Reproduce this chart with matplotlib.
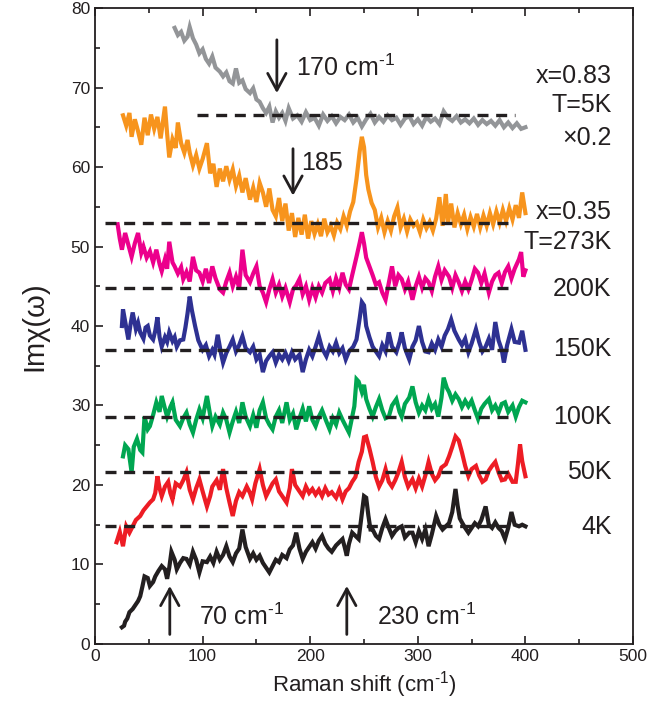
import matplotlib
matplotlib.use("Agg")
import matplotlib.pyplot as plt
from matplotlib.ticker import MultipleLocator

plt.rcParams['font.family'] = ['Liberation Sans', 'DejaVu Sans']
plt.rcParams['mathtext.fontset'] = 'custom'
plt.rcParams['mathtext.rm'] = 'Liberation Sans'
plt.rcParams['mathtext.it'] = 'Liberation Sans:italic'

# ---- spectra (Raman shift, Im chi) ----
gray_x = [74, 77, 80, 83, 86, 88, 91, 94, 97, 100, 103, 106, 109, 112, 116, 119, 122, 125, 128, 131,
          134, 137, 140, 144, 147, 150, 153, 156, 159, 162, 165, 168, 171, 174, 177, 180, 184, 188, 192, 196,
          200, 204, 208, 212, 216, 220, 224, 228, 232, 236, 240, 244, 248, 252, 256, 260, 264, 268, 272, 276,
          280, 284, 288, 292, 296, 300, 304, 308, 312, 316, 320, 324, 328, 332, 336, 340, 344, 348, 352, 356,
          360, 364, 368, 372, 376, 380, 384, 388, 392, 396, 400]
gray_y = [77.5, 76.6, 77.0, 75.9, 76.4, 77.6, 76.2, 75.4, 74.3, 74.8, 73.6, 73.0, 73.9, 72.5, 72.0, 71.4, 71.9, 70.8, 70.5, 72.4,
          70.6, 70.9, 69.8, 69.3, 69.9, 68.5, 68.2, 67.4, 66.8, 67.6, 65.6, 67.0, 66.2, 66.8, 65.8, 67.4, 66.1, 66.5, 65.7, 66.9,
          65.9, 66.2, 65.2, 66.6, 65.8, 66.4, 65.5, 66.3, 65.9, 66.6, 65.6, 66.2, 65.1, 66.0, 66.7, 65.6, 66.3, 65.7, 66.5, 65.9,
          66.2, 65.3, 66.1, 66.4, 65.4, 66.0, 65.2, 66.3, 65.7, 66.1, 65.4, 67.0, 66.2, 65.8, 66.4, 65.6, 66.0, 65.5, 66.1, 65.3,
          65.9, 65.4, 65.8, 65.2, 65.9, 65.0, 65.6, 64.9, 65.5, 64.8, 65.0]

orange_x = [26, 29, 32, 34, 37, 40, 43, 46, 49, 52, 55, 58, 61, 65, 67, 69, 72, 75, 77, 80,
            83, 86, 88, 91, 94, 97, 100, 104, 107, 110, 113, 116, 119, 122, 125, 128, 131, 134, 137, 140,
            144, 147, 150, 153, 156, 159, 162, 165, 168, 171, 174, 177, 180, 183, 186, 189, 192, 195, 198, 201,
            204, 207, 210, 213, 216, 219, 222, 225, 228, 231, 234, 237, 240, 243, 246, 248, 250, 252, 254, 257,
            260, 263, 266, 269, 272, 275, 278, 281, 284, 287, 290, 293, 296, 299, 302, 305, 308, 311, 314, 317,
            320, 323, 326, 328, 331, 334, 337, 340, 343, 346, 349, 352, 355, 358, 361, 364, 367, 370, 373, 376,
            379, 382, 385, 388, 391, 394, 397, 400]
orange_y = [66.5, 65.2, 66.8, 63.8, 66.0, 64.5, 62.8, 66.2, 64.0, 66.6, 64.8, 66.3, 63.6, 67.6, 64.2, 61.2, 63.5, 62.4, 65.6, 63.0,
            61.8, 63.4, 61.8, 60.2, 61.5, 59.8, 61.0, 63.0, 59.2, 60.4, 57.5, 59.8, 58.2, 60.1, 58.4, 59.7, 57.6, 58.9, 56.8, 58.6,
            55.9, 57.4, 55.6, 58.0, 56.8, 55.0, 57.3, 54.6, 53.8, 56.1, 53.2, 55.4, 52.0, 54.2, 51.2, 53.6, 51.5, 54.0, 51.0, 53.2,
            51.6, 52.8, 51.3, 53.5, 51.8, 52.6, 51.4, 53.0, 52.2, 53.8, 52.6, 54.4, 55.6, 58.5, 62.0, 63.8, 62.5, 59.0, 57.2, 55.5,
            54.6, 52.4, 53.6, 51.8, 53.2, 52.0, 53.8, 54.9, 52.4, 53.5, 51.9, 53.4, 52.6, 53.0, 51.8, 53.4, 52.3, 53.1, 52.0, 53.5,
            56.2, 52.6, 56.6, 53.0, 55.4, 52.4, 54.2, 52.8, 54.0, 52.2, 53.7, 52.5, 54.1, 52.4, 53.9, 52.6, 54.2, 52.8, 54.4, 53.0,
            54.6, 53.2, 54.8, 53.4, 55.2, 53.6, 56.8, 54.2]

pink_x = [21, 23, 25, 28, 31, 34, 37, 40, 43, 45, 48, 51, 54, 57, 60, 62, 65, 67, 69, 72,
          74, 77, 80, 82, 85, 88, 91, 94, 97, 100, 103, 106, 109, 112, 116, 119, 122, 125, 128, 131,
          134, 137, 140, 144, 147, 150, 153, 156, 159, 162, 165, 168, 171, 174, 177, 181, 184, 187, 190, 193,
          196, 199, 202, 205, 208, 211, 214, 218, 221, 224, 227, 230, 233, 236, 239, 243, 246, 248, 250, 252,
          255, 258, 261, 264, 267, 270, 273, 276, 279, 282, 285, 288, 291, 295, 298, 301, 304, 307, 310, 313,
          316, 319, 322, 325, 329, 332, 335, 338, 341, 344, 347, 350, 353, 356, 359, 362, 366, 369, 372, 375,
          378, 381, 384, 387, 390, 394, 396, 398, 400]
pink_y = [52.8, 51.0, 49.6, 51.7, 50.2, 48.7, 50.4, 51.7, 49.2, 50.0, 48.6, 49.4, 48.0, 49.6, 47.8, 46.9, 48.4, 47.2, 50.6, 48.0,
          47.5, 46.6, 47.4, 45.9, 46.8, 45.6, 48.7, 47.0, 46.7, 45.6, 47.2, 45.4, 47.5, 46.0, 44.6, 44.2, 45.6, 46.7, 45.0, 46.2,
          44.8, 49.6, 46.4, 45.5, 46.6, 47.5, 45.0, 44.2, 43.0, 44.6, 45.9, 44.2, 45.2, 43.7, 44.8, 43.0, 44.6, 45.1, 45.9, 44.0,
          45.0, 43.3, 44.8, 43.6, 45.0, 44.2, 45.4, 45.9, 44.4, 46.0, 44.8, 46.7, 45.2, 44.6, 46.4, 48.7, 50.5, 51.8, 50.4, 48.6,
          47.5, 46.4, 45.2, 45.5, 44.2, 43.3, 45.4, 47.5, 45.0, 46.4, 45.9, 44.6, 45.6, 43.3, 45.0, 46.2, 44.8, 46.0, 45.5, 44.4,
          46.2, 47.5, 45.8, 47.0, 46.2, 44.8, 46.4, 45.5, 44.4, 45.6, 44.6, 45.8, 47.2, 46.7, 45.4, 46.6, 44.2, 45.6, 46.4, 46.7,
          45.4, 46.8, 47.5, 46.0, 47.2, 48.4, 49.3, 46.2, 47.0]

blue_x = [25, 26, 28, 31, 33, 35, 38, 40, 42, 45, 47, 49, 51, 54, 56, 58, 60, 62, 65, 67,
          69, 72, 74, 76, 79, 82, 84, 86, 88, 90, 93, 96, 98, 100, 103, 106, 109, 111, 114, 117,
          119, 122, 125, 128, 131, 134, 137, 140, 144, 147, 150, 153, 156, 159, 162, 165, 168, 171, 174, 177,
          180, 183, 186, 190, 193, 196, 199, 202, 205, 208, 211, 215, 218, 221, 224, 227, 230, 233, 236, 240,
          243, 246, 248, 250, 252, 255, 258, 261, 264, 267, 270, 273, 276, 280, 283, 285, 288, 292, 295, 298,
          301, 304, 307, 310, 313, 316, 319, 322, 325, 328, 331, 334, 338, 341, 344, 347, 350, 354, 357, 360,
          363, 366, 369, 372, 375, 378, 380, 383, 387, 390, 394, 397, 400]
blue_y = [40.0, 42.1, 40.6, 38.3, 40.2, 41.7, 39.6, 40.4, 39.2, 38.4, 39.8, 40.0, 38.8, 38.3, 39.4, 41.1, 38.6, 37.4, 38.6, 38.0,
          39.2, 38.1, 38.6, 37.4, 38.2, 38.3, 39.8, 41.6, 43.7, 42.0, 40.0, 38.2, 37.6, 37.0, 37.6, 36.2, 37.0, 36.4, 38.9, 36.6,
          35.4, 36.6, 37.4, 38.3, 36.8, 37.6, 38.7, 37.2, 36.7, 37.4, 35.8, 36.4, 34.2, 35.6, 36.2, 36.7, 35.4, 36.4, 35.8, 36.6,
          35.6, 36.7, 35.8, 36.4, 34.2, 35.8, 37.0, 36.2, 37.4, 38.7, 37.2, 36.2, 37.4, 36.8, 37.9, 36.6, 37.2, 35.8, 36.8, 37.4,
          38.3, 41.0, 43.0, 42.6, 40.0, 38.6, 37.4, 36.8, 36.2, 37.6, 36.8, 39.2, 37.4, 36.7, 38.0, 39.2, 37.2, 35.8, 37.4, 38.2,
          40.0, 38.0, 36.8, 36.7, 37.8, 37.0, 38.3, 37.4, 38.8, 39.6, 40.8, 39.4, 38.3, 37.6, 38.4, 36.7, 37.8, 39.6, 38.0, 36.8,
          37.4, 38.4, 37.0, 40.5, 38.2, 37.0, 35.4, 37.6, 39.6, 38.0, 37.9, 39.4, 37.0]

green_x = [26, 28, 31, 34, 36, 39, 42, 44, 46, 49, 51, 54, 57, 60, 62, 65, 67, 70, 72, 75,
           79, 82, 85, 88, 91, 94, 97, 100, 104, 107, 109, 112, 116, 119, 122, 125, 128, 131, 134, 137,
           140, 144, 147, 150, 153, 156, 159, 162, 165, 168, 171, 174, 178, 181, 184, 187, 190, 193, 196, 199,
           202, 205, 208, 211, 215, 218, 221, 224, 227, 230, 233, 236, 239, 241, 243, 245, 248, 250, 252, 255,
           258, 261, 264, 267, 270, 273, 276, 280, 283, 285, 288, 292, 295, 298, 301, 304, 307, 310, 313, 316,
           319, 322, 324, 327, 329, 332, 335, 338, 341, 344, 347, 350, 353, 356, 359, 362, 366, 369, 372, 375,
           378, 381, 384, 388, 391, 394, 397, 400]
green_y = [23.6, 25.0, 24.5, 21.6, 24.8, 25.8, 24.4, 24.1, 28.6, 27.0, 27.4, 28.8, 30.4, 29.2, 31.2, 29.6, 28.6, 29.8, 30.4, 28.2,
           27.4, 28.4, 29.1, 27.6, 26.6, 28.2, 29.5, 28.4, 31.2, 28.8, 27.4, 28.6, 27.6, 29.1, 28.2, 26.6, 28.0, 29.2, 27.8, 30.4,
           28.6, 27.4, 28.8, 27.2, 29.4, 30.4, 28.4, 27.6, 27.0, 28.6, 29.4, 27.8, 30.4, 28.2, 29.0, 27.0, 28.4, 29.6, 28.0, 29.9,
           28.2, 27.4, 28.6, 29.4, 28.0, 27.0, 28.4, 27.6, 29.1, 28.2, 27.4, 26.6, 28.6, 29.9, 33.3, 33.0, 31.7, 32.6, 30.8, 29.6,
           28.6, 29.8, 30.8, 29.4, 28.4, 28.6, 30.0, 30.8, 29.2, 28.6, 30.2, 31.0, 32.4, 30.4, 29.1, 30.0, 29.4, 30.8, 29.6, 30.2,
           28.6, 31.0, 33.5, 32.2, 31.7, 30.6, 31.4, 30.8, 29.8, 30.6, 29.9, 30.6, 29.4, 28.3, 29.6, 30.2, 30.8, 29.4, 30.0, 29.1,
           30.2, 30.4, 29.2, 30.0, 28.6, 29.8, 30.6, 30.4]

red_x = [20, 23, 26, 29, 32, 35, 38, 42, 45, 48, 51, 54, 56, 58, 60, 62, 65, 68, 70, 72,
         75, 79, 82, 85, 88, 91, 94, 97, 100, 104, 107, 109, 113, 116, 119, 122, 125, 128, 131, 134,
         137, 141, 144, 146, 149, 153, 156, 159, 162, 165, 168, 171, 174, 178, 181, 183, 186, 190, 193, 196,
         199, 202, 205, 208, 211, 214, 217, 220, 224, 227, 230, 233, 236, 239, 242, 245, 248, 250, 252, 255,
         258, 261, 264, 267, 270, 273, 276, 279, 282, 285, 288, 291, 295, 298, 301, 304, 307, 310, 313, 316,
         319, 322, 326, 329, 332, 335, 338, 341, 344, 347, 350, 354, 357, 360, 363, 366, 369, 372, 375, 378,
         381, 384, 388, 391, 393, 395, 397, 400]
red_y = [12.8, 14.1, 12.3, 14.8, 14.0, 14.8, 15.6, 16.1, 16.8, 17.3, 17.8, 18.2, 19.0, 21.1, 19.6, 18.6, 19.8, 20.4, 19.0, 18.2,
         20.2, 19.8, 20.6, 21.6, 19.4, 18.2, 19.6, 20.7, 19.2, 17.3, 18.6, 19.8, 20.6, 19.4, 22.0, 19.6, 17.8, 16.1, 18.0, 19.1,
         18.6, 19.8, 19.0, 18.2, 20.2, 22.0, 20.0, 18.6, 19.4, 20.2, 20.7, 19.2, 18.6, 17.8, 19.6, 22.0, 20.0, 19.2, 18.6, 19.8,
         19.0, 19.5, 18.8, 19.4, 18.6, 19.6, 18.8, 19.1, 18.4, 19.4, 18.2, 19.2, 19.6, 20.4, 21.0, 22.9, 24.2, 26.0, 26.1, 24.6,
         22.9, 21.0, 19.8, 20.6, 22.0, 20.4, 19.8, 20.6, 21.6, 22.9, 21.0, 19.8, 20.7, 19.6, 20.8, 19.8, 21.2, 22.9, 21.4, 20.6,
         21.1, 22.2, 22.6, 23.6, 24.8, 26.1, 25.6, 24.1, 22.4, 21.1, 22.0, 22.4, 21.2, 20.4, 20.7, 21.8, 22.4, 22.9, 21.6, 20.6,
         20.7, 21.4, 20.4, 20.4, 22.6, 25.1, 23.0, 21.1]

black_x = [25, 27, 28, 30, 32, 35, 37, 40, 42, 44, 46, 49, 51, 54, 56, 59, 62, 65, 67, 69,
           71, 74, 76, 79, 82, 85, 88, 91, 94, 97, 100, 104, 107, 110, 113, 116, 119, 122, 125, 128,
           131, 134, 137, 140, 144, 147, 150, 153, 156, 159, 162, 165, 168, 171, 174, 178, 181, 184, 187, 190,
           193, 196, 199, 202, 205, 208, 211, 214, 217, 220, 224, 227, 230, 232, 234, 236, 239, 242, 245, 247,
           250, 252, 254, 256, 258, 261, 264, 267, 270, 273, 276, 279, 282, 285, 288, 292, 295, 298, 301, 304,
           307, 310, 313, 317, 320, 323, 326, 329, 332, 335, 337, 339, 341, 344, 347, 350, 353, 356, 359, 363,
           366, 369, 372, 375, 378, 381, 384, 387, 390, 394, 397, 400]
black_y = [2.1, 2.3, 2.8, 3.2, 4.0, 4.4, 4.8, 5.4, 6.0, 7.2, 8.5, 8.3, 7.3, 7.8, 8.5, 9.2, 9.8, 9.4, 8.2, 9.6,
           11.6, 10.6, 9.4, 10.2, 10.8, 10.7, 10.0, 11.6, 10.6, 9.0, 10.4, 10.3, 11.0, 10.2, 11.6, 10.6, 11.2, 12.3, 11.0, 10.3,
           11.4, 12.0, 14.4, 12.2, 10.7, 11.4, 10.6, 11.1, 10.2, 9.6, 9.0, 9.8, 10.6, 10.3, 11.2, 10.8, 11.9, 12.4, 14.0, 12.0,
           10.7, 11.6, 12.2, 12.8, 12.0, 13.0, 13.6, 12.6, 12.0, 11.6, 12.4, 12.8, 13.2, 12.2, 11.1, 12.6, 14.0, 13.6, 13.2, 15.4,
           18.6, 18.4, 16.2, 14.4, 14.4, 13.6, 13.2, 14.6, 15.7, 14.6, 13.6, 14.2, 14.6, 14.8, 13.4, 14.0, 14.0, 12.8, 14.2, 13.2,
           14.4, 12.3, 13.8, 16.1, 15.0, 14.4, 14.8, 15.2, 16.6, 19.5, 17.4, 15.8, 15.3, 14.6, 14.0, 14.6, 15.2, 14.8, 15.6, 17.3,
           15.0, 14.6, 15.3, 14.6, 14.2, 13.2, 14.6, 16.6, 15.0, 14.8, 15.0, 14.8]

# dashed baselines: level and x-range
base_levels = [66.5, 53.0, 44.8, 37.0, 28.5, 21.6, 14.8]
base_start = [95, 9, 9, 9, 9, 9, 9]
base_end = 390

# right-hand labels: text and height
label_text = ['x=0.83', 'T=5K', '\u00d70.2', 'x=0.35', 'T=273K', '200K', '150K', '100K', '50K', '4K']
label_y = [71.4, 67.8, 63.7, 54.3, 50.6, 44.6, 37.1, 28.6, 21.6, 14.7]

series = [
    (gray_x, gray_y, '#939598'),
    (orange_x, orange_y, '#F7941D'),
    (pink_x, pink_y, '#EC008C'),
    (blue_x, blue_y, '#2E3192'),
    (green_x, green_y, '#00A651'),
    (red_x, red_y, '#ED1C24'),
    (black_x, black_y, '#231F20'),
]

fig = plt.figure(figsize=(6.49, 7.09), dpi=100)
ax = fig.add_axes([0.1464, 0.0917, 0.829, 0.897])

for xs, ys, c in series:
    ax.plot(xs, ys, color=c, lw=3.0, solid_joinstyle='miter')

for lev, x0 in zip(base_levels, base_start):
    ax.plot([x0, base_end], [lev, lev], color='#231F20', lw=2.4, ls=(0, (3.3, 2.3)))

txt = '#231F20'
for t, yy in zip(label_text, label_y):
    ax.text(480, yy, t, ha='right', va='center', fontsize=18, color=txt)

sup = r'$^{\text{-}1}$'
arrow = dict(arrowstyle='->,head_length=0.55,head_width=0.3', color=txt, lw=2, mutation_scale=22,
             shrinkA=0, shrinkB=0)
ax.annotate('', xy=(169, 69.3), xytext=(169, 76.0), arrowprops=arrow)
ax.text(187, 72.5, '170 cm' + sup, ha='left', va='center', fontsize=18, color=txt)
ax.annotate('', xy=(184, 56.4), xytext=(184, 62.3), arrowprops=arrow)
ax.text(192, 60.5, '185', ha='left', va='center', fontsize=18, color=txt)
ax.annotate('', xy=(69.5, 7.3), xytext=(69.5, 1.2), arrowprops=arrow)
ax.text(97, 3.4, '70 cm' + sup, ha='left', va='center', fontsize=18, color=txt)
ax.annotate('', xy=(234, 7.3), xytext=(234, 1.2), arrowprops=arrow)
ax.text(262, 3.4, '230 cm' + sup, ha='left', va='center', fontsize=18, color=txt)

ax.set_xlim(0, 500)
ax.set_ylim(0, 80)
ax.xaxis.set_major_locator(MultipleLocator(100))
ax.xaxis.set_minor_locator(MultipleLocator(50))
ax.yaxis.set_major_locator(MultipleLocator(10))
ax.yaxis.set_minor_locator(MultipleLocator(5))
ax.tick_params(which='both', direction='in', top=True, right=False, width=1.2, colors=txt,
               labelsize=12.5, labelcolor=txt)
ax.tick_params(which='major', length=6)
ax.tick_params(which='minor', length=3.5)
for s in ax.spines.values():
    s.set_linewidth(1.3)
    s.set_color(txt)

ax.set_xlabel('Raman shift (cm' + sup + ')', fontsize=16, color=txt, labelpad=4)
ax.set_ylabel('Im\u03c7(\u03c9)', fontsize=21, color=txt, labelpad=16)

fig.savefig('out.png', dpi=100)
